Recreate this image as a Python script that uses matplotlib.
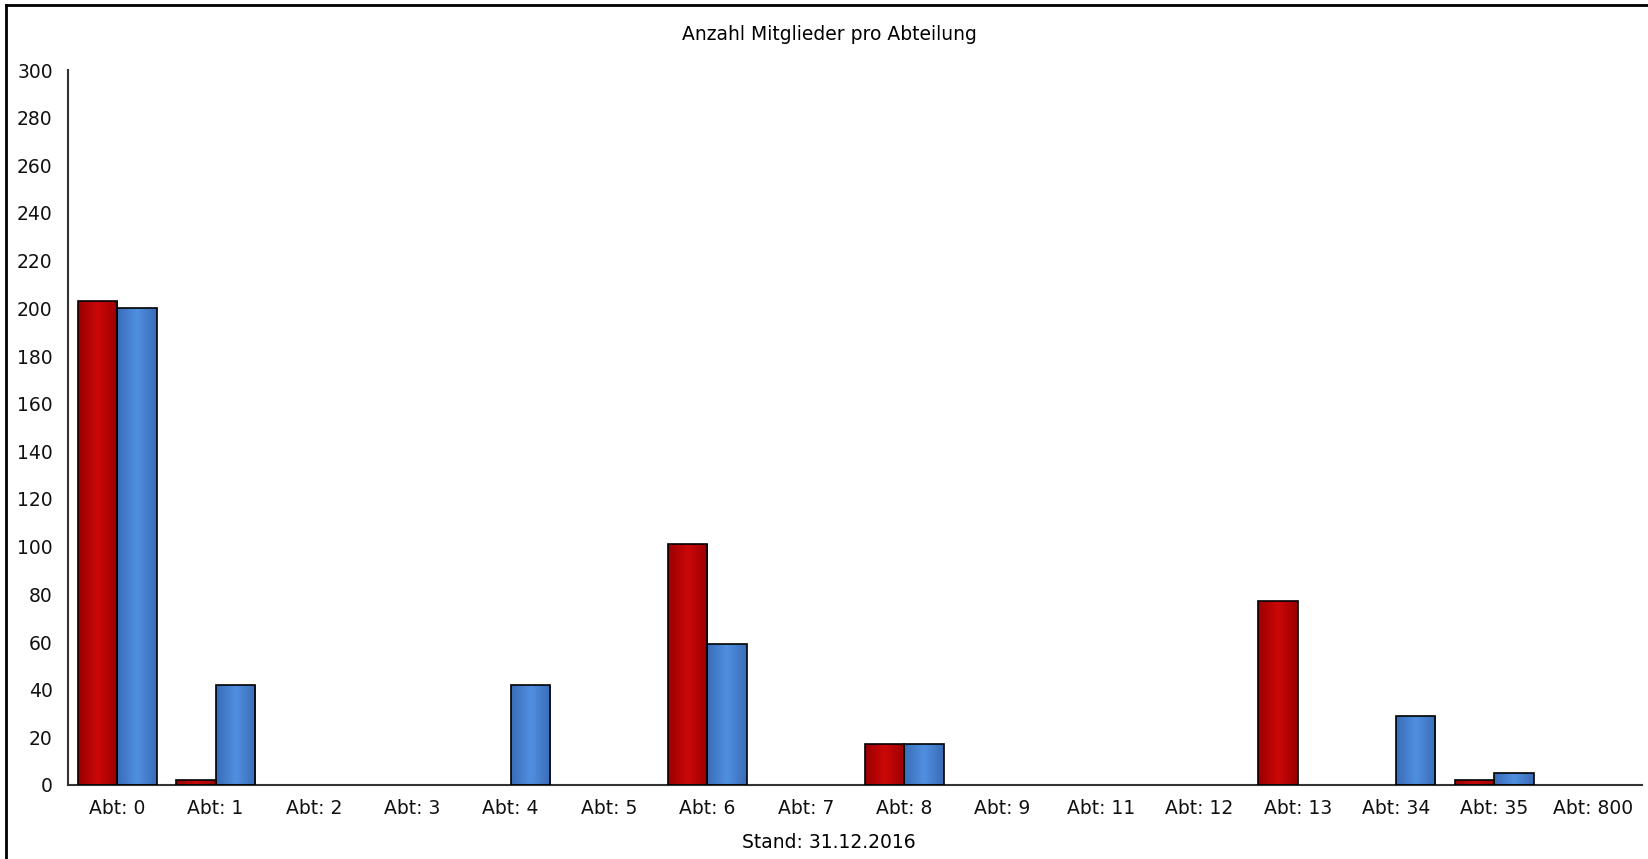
import numpy as np
import matplotlib.pyplot as plt
from matplotlib.colors import LinearSegmentedColormap

plt.rcParams['font.family'] = ['DejaVu Sans']

categories = ['Abt: 0', 'Abt: 1', 'Abt: 2', 'Abt: 3', 'Abt: 4', 'Abt: 5', 'Abt: 6', 'Abt: 7',
              'Abt: 8', 'Abt: 9', 'Abt: 11', 'Abt: 12', 'Abt: 13', 'Abt: 34', 'Abt: 35', 'Abt: 800']
red_values = [203, 2, 0, 0, 0, 0, 101, 0, 17, 0, 0, 0, 77, 0, 2, 0]
blue_values = [200, 42, 0, 0, 42, 0, 59, 0, 17, 0, 0, 0, 0, 29, 5, 0]
yticks = list(range(0, 301, 20))

fig = plt.figure(figsize=(16.48, 8.59), dpi=100)
ax = fig.add_axes([68 / 1648, 74 / 859, (1642 - 68) / 1648, (785 - 70) / 859])

red_cmap = LinearSegmentedColormap.from_list('r', ['#9a0000', '#cc0808', '#9a0000'])
blue_cmap = LinearSegmentedColormap.from_list('b', ['#3a6cb8', '#5090e0', '#3a6cb8'])
grad = np.linspace(0, 1, 64).reshape(1, -1)

x = np.arange(len(categories))
w = 0.4
for vals, off, cmap in [(red_values, -w / 2, red_cmap), (blue_values, w / 2, blue_cmap)]:
    bars = ax.bar(x + off, vals, width=w, facecolor='none', edgecolor='black', linewidth=1.2, zorder=3)
    for b, v in zip(bars, vals):
        if v <= 0:
            b.set_visible(False)
            continue
        # horizontal shading inside each bar
        im = ax.imshow(grad, cmap=cmap, aspect='auto', zorder=2,
                       extent=[b.get_x(), b.get_x() + b.get_width(), 0, v])
        im.set_clip_path(b)

ax.set_xlim(-0.5, len(categories) - 0.5)
ax.set_ylim(0, 300)
ax.set_yticks(yticks)
ax.set_xticks(x)
ax.set_xticklabels(categories)
ax.tick_params(axis='both', length=0, labelsize=13.5, colors='#111111')
ax.tick_params(axis='y', pad=11)
ax.tick_params(axis='x', pad=10)
for s in ['top', 'right']:
    ax.spines[s].set_visible(False)
for s in ['left', 'bottom']:
    ax.spines[s].set_color('#333333')
    ax.spines[s].set_linewidth(1.5)

fig.text(829 / 1648, 1 - 35 / 859, 'Anzahl Mitglieder pro Abteilung', ha='center', va='center', fontsize=13.5)
fig.text(829 / 1648, 1 - 843 / 859, 'Stand: 31.12.2016', ha='center', va='center', fontsize=13.5)

# outer frame (top and left only)
fig.add_artist(plt.Line2D([6 / 1648, 1], [1 - 5 / 859, 1 - 5 / 859], color='black', linewidth=2))
fig.add_artist(plt.Line2D([6 / 1648, 6 / 1648], [0, 1 - 5 / 859], color='black', linewidth=2))

fig.savefig('out.png', dpi=100)
